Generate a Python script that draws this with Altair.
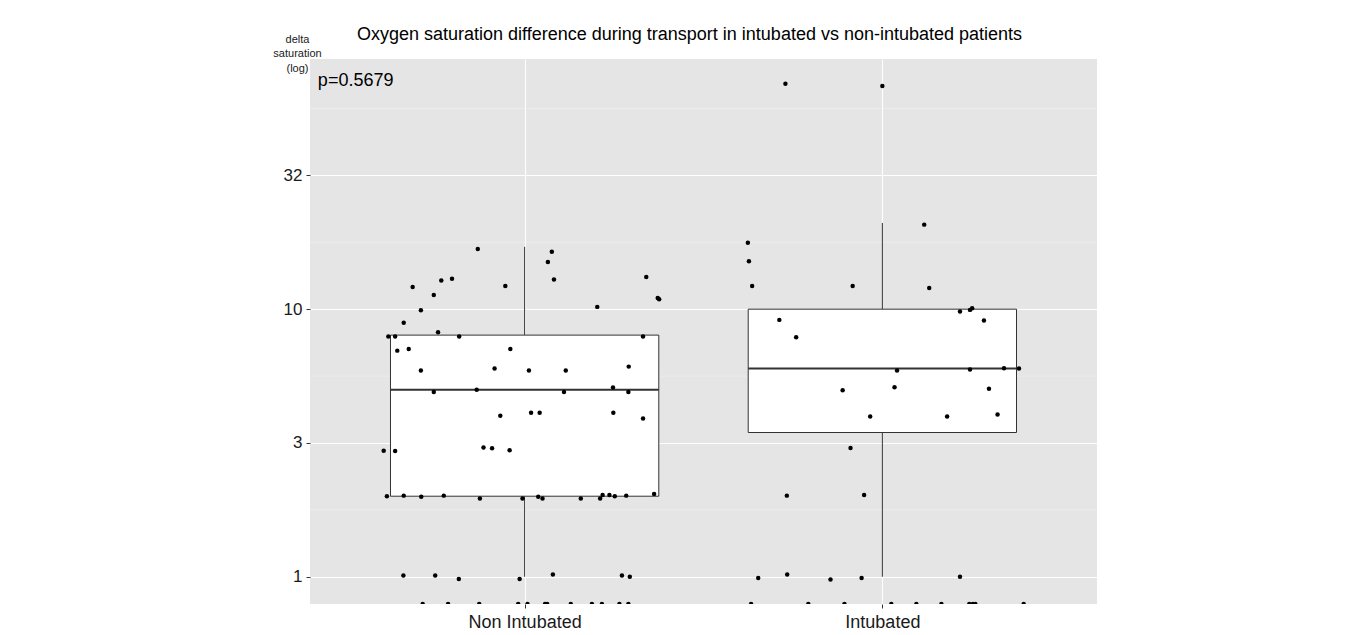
import altair as alt
import pandas as pd

# ---------------- data ----------------
groups = ["Non Intubated", "Intubated"]

# horizontal jitter (in category units, relative to the group centre) and delta saturation
non_jitter = [-0.131, 0.076, 0.065, 0.082, -0.203, -0.233, -0.313, -0.054, 0.340, -0.254,
              0.372, 0.376, -0.290, 0.203, -0.338, -0.242, -0.381, -0.362, -0.183, 0.331,
              -0.356, -0.324, -0.040, -0.290, -0.084, 0.012, 0.115, 0.291, -0.254, -0.134,
              0.110, 0.247, 0.290, -0.068, 0.018, 0.042, 0.248, 0.331, -0.394, -0.362,
              -0.115, -0.091, -0.042, -0.385, -0.338, -0.289, -0.226, -0.125, -0.006, 0.038,
              0.050, 0.157, 0.211, 0.218, 0.237, 0.252, 0.284, 0.362, -0.339, -0.250,
              -0.184, -0.014, 0.079, 0.272, 0.294,
              -0.285, -0.214, -0.127, -0.018, 0.008, 0.057, 0.063, 0.129, 0.188, 0.216,
              0.265, 0.290]
non_delta = [16.8, 16.4, 15.0, 12.9, 13.0, 12.8, 12.1, 12.2, 13.2, 11.3,
             11.0, 10.9, 9.9, 10.2, 8.9, 8.2, 7.9, 7.9, 7.9, 7.9,
             7.0, 7.1, 7.1, 5.9, 6.0, 5.9, 5.9, 6.1, 4.9, 5.0,
             4.9, 5.1, 4.9, 4.0, 4.1, 4.1, 4.1, 3.9, 2.96, 2.95,
             3.04, 3.02, 2.97, 2.0, 2.01, 1.99, 2.01, 1.96, 1.96, 1.99,
             1.96, 1.96, 1.96, 2.02, 2.02, 2.0, 2.01, 2.04, 1.01, 1.01,
             0.98, 0.98, 1.02, 1.01, 1.0,
             0, 0, 0, 0, 0, 0, 0, 0, 0, 0,
             0, 0]

int_jitter = [-0.271, 0.0, 0.117, -0.376, -0.373, -0.364, -0.083, 0.131, 0.217, 0.245,
              0.251, 0.284, -0.288, -0.241, 0.041, 0.245, 0.340, 0.382, -0.111, 0.034,
              0.298, -0.034, 0.181, 0.322, -0.089, -0.267, -0.051, -0.347, -0.266, -0.145,
              -0.058, 0.217,
              -0.367, -0.207, -0.106, 0.025, 0.095, 0.165, 0.243, 0.253, 0.260, 0.395]
int_delta = [69.6, 68.3, 20.7, 17.7, 15.1, 12.2, 12.2, 12.0, 9.8, 9.94,
             10.08, 9.07, 9.12, 7.85, 5.9, 5.95, 6.01, 6.0, 4.98, 5.11,
             5.04, 3.97, 3.97, 4.04, 3.03, 2.01, 2.02, 0.99, 1.02, 0.977,
             0.99, 1.0,
             0, 0, 0, 0, 0, 0, 0, 0, 0, 0]

# box-plot summary
box_q1 = [2.0, 3.46]
box_median = [5.0, 6.0]
box_q3 = [8.0, 10.0]
whisker_low = [1.0, 1.0]
whisker_high = [17.1, 21.0]

y_ticks = [1, 3.1623, 10, 31.623]
y_minor = [1.778, 5.623, 17.78, 56.23]
p_label = "p=0.5679"
title_text = "Oxygen saturation difference during transport in intubated vs non-intubated patients"

# ---------------- tables ----------------
pts = pd.DataFrame({
    "x": [1 + j for j in non_jitter] + [2 + j for j in int_jitter],
    "delta": non_delta + int_delta,
})
box = pd.DataFrame({"idx": [1, 2], "q1": box_q1, "med": box_median, "q3": box_q3,
                    "lo": whisker_low, "hi": whisker_high})
minor = pd.DataFrame({"v": y_minor})
ann = pd.DataFrame({"x": [0.422], "y": [68.4], "t": [p_label]})

YMIN, YMAX = 0.791, 86.1
FONT = "Liberation Sans"
BOXHALF = 0.375

xscale = alt.Scale(domain=[0.4, 2.6], nice=False, zero=False)
yscale = alt.Scale(type="log", domain=[YMIN, YMAX], nice=False)

xaxis = alt.Axis(values=[1, 2], title=None,
                 labelExpr=f"['{groups[0]}','{groups[1]}'][datum.value - 1]",
                 grid=True, gridColor="white", gridWidth=1.1,
                 domain=False, ticks=True, tickColor="#333333", tickSize=4,
                 labelFont=FONT, labelFontSize=18, labelColor="#1a1a1a", labelPadding=5,
                 zindex=0)
yaxis = alt.Axis(values=y_ticks, format=".0f",
                 title=["delta", "saturation", "(log)"], titleAngle=0, titleAlign="center",
                 titleBaseline="top", titleX=-13, titleY=-26, titleFont=FONT,
                 titleFontSize=11, titleFontWeight="normal", titleColor="#1a1a1a",
                 titleLineHeight=14.5,
                 grid=True, gridColor="white", gridWidth=1.1,
                 domain=False, ticks=True, tickColor="#333333", tickSize=4,
                 labelFont=FONT, labelFontSize=17, labelColor="#1a1a1a", labelPadding=4,
                 zindex=0)

minor_grid = alt.Chart(minor).mark_rule(color="#F2F2F2", strokeWidth=0.6).encode(
    y=alt.Y("v:Q", scale=yscale, axis=yaxis)
)

base_box = alt.Chart(box).transform_calculate(
    xl=f"datum.idx - {BOXHALF}", xr=f"datum.idx + {BOXHALF}"
)
whisk_up = base_box.mark_rule(color="#333333", strokeWidth=1).encode(
    x=alt.X("idx:Q", scale=xscale, axis=xaxis),
    y=alt.Y("q3:Q", scale=yscale), y2="hi:Q")
whisk_dn = base_box.mark_rule(color="#333333", strokeWidth=1).encode(
    x=alt.X("idx:Q", scale=xscale), y=alt.Y("lo:Q", scale=yscale), y2="q1:Q")
rect = base_box.mark_rect(fill="white", stroke="#333333", strokeWidth=1).encode(
    x=alt.X("xl:Q", scale=xscale), x2="xr:Q",
    y=alt.Y("q1:Q", scale=yscale), y2="q3:Q")
med = base_box.mark_rule(color="#333333", strokeWidth=2).encode(
    x=alt.X("xl:Q", scale=xscale), x2="xr:Q", y=alt.Y("med:Q", scale=yscale))

points = alt.Chart(pts).transform_calculate(
    yplot=f"max(datum.delta, {YMIN})"
).mark_circle(color="black", size=20, opacity=1, clip=True).encode(
    x=alt.X("x:Q", scale=xscale), y=alt.Y("yplot:Q", scale=yscale))

ptext = alt.Chart(ann).mark_text(align="left", baseline="alphabetic", font=FONT,
                                 fontSize=18, color="black").encode(
    x=alt.X("x:Q", scale=xscale), y=alt.Y("y:Q", scale=yscale), text="t:N")

chart = alt.layer(minor_grid, whisk_up, whisk_dn, rect, med, points, ptext).properties(
    width=787, height=545,
    autosize="none",
    background="white",
    padding={"left": 302, "top": 51, "right": 241, "bottom": 26},
    title=alt.TitleParams(title_text, font=FONT, fontSize=18, fontWeight="normal",
                          color="black", anchor="middle", dx=-14, offset=0, dy=25,
                          baseline="alphabetic"),
).configure_view(fill="#E5E5E5", stroke=None)

chart.save("out.html", embed_options={"renderer": "svg", "actions": False})
